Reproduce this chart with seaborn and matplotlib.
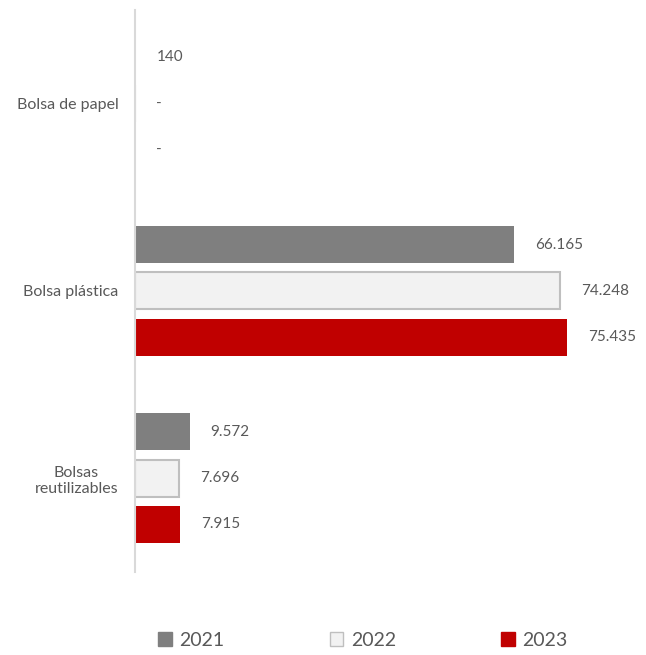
import matplotlib
matplotlib.use("Agg")
import matplotlib.pyplot as plt
import seaborn as sns
import pandas as pd
from matplotlib.patches import Patch

# Data
categorias = ["Bolsa de papel", "Bolsa plástica", "Bolsas\nreutilizables"]
anios = ["2021", "2022", "2023"]
valores_2021 = [140, 66165, 9572]
valores_2022 = [0, 74248, 7696]
valores_2023 = [0, 75435, 7915]

colores = {"2021": "#7f7f7f", "2022": "#f2f2f2", "2023": "#c00000"}
bordes = {"2021": "none", "2022": "#bfbfbf", "2023": "none"}

df = pd.DataFrame({
    "Categoria": categorias * 3,
    "Anio": [a for a in anios for _ in categorias],
    "Valor": valores_2021 + valores_2022 + valores_2023,
})

sns.set_theme(style="white")
plt.rcParams["font.family"] = ["Lato", "DejaVu Sans"]

fig = plt.figure(figsize=(6.46, 6.55), dpi=100)
ax = fig.add_axes([0.209, 0.127, 0.754, 0.858])

sns.barplot(data=df, y="Categoria", x="Valor", hue="Anio", orient="h",
            palette=colores, saturation=1, width=0.74, gap=0.2, ax=ax,
            legend=False, order=categorias, hue_order=anios)

def fmt(v):
    if v == 0:
        return "-"
    return f"{v:,.0f}".replace(",", ".")

for anio, cont in zip(anios, ax.containers):
    for bar in cont:
        bar.set_edgecolor(bordes[anio])
        bar.set_linewidth(1.5 if anio == "2022" else 0)
    vals = df[df["Anio"] == anio]["Valor"].tolist()
    ax.bar_label(cont, labels=[fmt(v) for v in vals], padding=15,
                 fontsize=11, color="#595959")

ax.set_xlim(0, 85000)
ax.set_ylim(2.5, -0.5)
ax.set_xlabel("")
ax.set_ylabel("")
ax.set_xticks([])
ax.tick_params(axis="y", length=0, pad=12, labelsize=11.5, labelcolor="#595959")
for lbl in ax.get_yticklabels():
    lbl.set_multialignment("center")
for s in ["top", "right", "bottom"]:
    ax.spines[s].set_visible(False)
ax.spines["left"].set_color("#d9d9d9")
ax.spines["left"].set_linewidth(1.5)

handles = [Patch(facecolor=colores[a],
                 edgecolor=("#bfbfbf" if a == "2022" else colores[a]), label=a)
           for a in anios]
fig.legend(handles=handles, loc="lower center", bbox_to_anchor=(0.562, -0.017),
           ncol=3, frameon=False, fontsize=14, labelcolor="#595959",
           handlelength=0.7, handleheight=0.7, handletextpad=0.4,
           columnspacing=5.4)

fig.savefig("out.png", dpi=100, facecolor="white")
